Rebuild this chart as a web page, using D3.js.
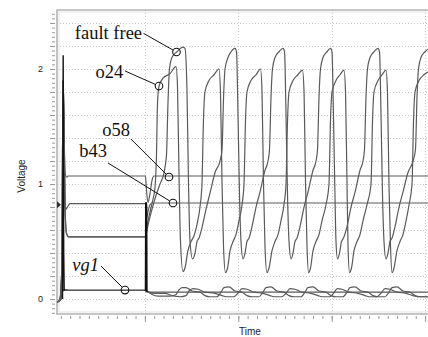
<!DOCTYPE html>
<html>
<head>
<meta charset="utf-8">
<script src="https://cdn.jsdelivr.net/npm/d3@7"></script>
<style>
  body { margin: 0; background: #fff; }
  svg { display: block; }
</style>
</head>
<body>
<div id="chart"></div>
<script>
// time in ns, voltage in V
const timeDomain = [0.059, 4.031];
const voltDomain = [-0.13, 2.513];
const yTickLabels = [0, 1, 2];

const faultFree = [
  [0.059, -0.03], [0.091, 0.0], [0.112, 0.3], [0.123, 1.9], [0.134, 1.6], [0.145, 0.8], [0.161, 0.57], [0.187, 0.54], [1.006, 0.54],
  [1.022, 0.6], [1.044, 0.68], [1.076, 0.78], [1.119, 0.9], [1.162, 1.0], [1.205, 1.1], [1.231, 1.25], [1.247, 1.7], [1.263, 2.0],
  [1.290, 2.1], [1.343, 2.15], [1.408, 2.19], [1.429, 2.18], [1.451, 1.8], [1.467, 1.0], [1.483, 0.5], [1.510, 0.35],
  [1.537, 0.4], [1.558, 0.5], [1.579, 0.53], [1.611, 0.62], [1.654, 0.78], [1.697, 0.92], [1.751, 1.1], [1.804, 1.2],
  [1.826, 1.3], [1.842, 1.75], [1.858, 2.0], [1.890, 2.1], [1.922, 2.15], [1.965, 2.18], [1.981, 2.15], [1.997, 1.6],
  [2.013, 0.9], [2.029, 0.5], [2.050, 0.35], [2.072, 0.4], [2.093, 0.5], [2.115, 0.53], [2.147, 0.63], [2.190, 0.8],
  [2.232, 0.93], [2.286, 1.12], [2.318, 1.2], [2.334, 1.3], [2.350, 1.75], [2.366, 2.0], [2.393, 2.1], [2.436, 2.15],
  [2.479, 2.18], [2.495, 2.15], [2.511, 1.6], [2.527, 0.9], [2.543, 0.5], [2.565, 0.35], [2.586, 0.4], [2.607, 0.5],
  [2.629, 0.53], [2.661, 0.63], [2.704, 0.8], [2.746, 0.93], [2.800, 1.12], [2.832, 1.2], [2.848, 1.3], [2.864, 1.75],
  [2.880, 2.0], [2.907, 2.1], [2.950, 2.15], [2.987, 2.18], [3.003, 2.15], [3.019, 1.6], [3.035, 0.9], [3.046, 0.5],
  [3.062, 0.35], [3.084, 0.4], [3.105, 0.5], [3.126, 0.53], [3.164, 0.63], [3.207, 0.8], [3.250, 0.93], [3.303, 1.12],
  [3.335, 1.2], [3.351, 1.3], [3.367, 1.75], [3.383, 2.0], [3.410, 2.1], [3.453, 2.15], [3.496, 2.18], [3.512, 2.15],
  [3.528, 1.6], [3.544, 0.9], [3.560, 0.5], [3.581, 0.35], [3.603, 0.4], [3.624, 0.5], [3.646, 0.53], [3.678, 0.63],
  [3.721, 0.8], [3.763, 0.93], [3.817, 1.1], [3.871, 1.2], [3.897, 1.3], [3.913, 1.75], [3.929, 2.0], [3.956, 2.1],
  [3.999, 2.15], [4.052, 2.18],
];

const o24 = [
  [0.059, -0.03], [0.091, 0.0], [0.112, 0.3], [0.123, 1.9], [0.134, 1.6], [0.145, 0.8], [0.161, 0.57], [0.187, 0.54], [1.006, 0.54],
  [1.022, 0.62], [1.044, 0.72], [1.076, 0.83], [1.108, 0.97], [1.124, 1.25], [1.135, 1.7], [1.151, 1.85], [1.194, 1.92],
  [1.269, 1.96], [1.333, 2.02], [1.349, 1.85], [1.365, 1.1], [1.381, 0.5], [1.408, 0.24], [1.429, 0.27], [1.461, 0.42],
  [1.494, 0.5], [1.526, 0.55], [1.558, 0.65], [1.590, 0.8], [1.611, 1.0], [1.627, 1.55], [1.643, 1.8], [1.686, 1.9],
  [1.740, 1.95], [1.793, 2.0], [1.809, 1.8], [1.826, 1.0], [1.842, 0.45], [1.863, 0.23], [1.885, 0.27], [1.912, 0.42],
  [1.944, 0.5], [1.975, 0.56], [2.007, 0.68], [2.040, 0.82], [2.061, 1.0], [2.077, 1.55], [2.093, 1.8], [2.136, 1.9],
  [2.190, 1.95], [2.238, 2.0], [2.254, 1.8], [2.270, 1.0], [2.286, 0.45], [2.307, 0.23], [2.329, 0.27], [2.361, 0.42],
  [2.393, 0.5], [2.425, 0.56], [2.457, 0.68], [2.489, 0.82], [2.511, 1.0], [2.527, 1.55], [2.543, 1.8], [2.586, 1.9],
  [2.639, 1.95], [2.687, 1.99], [2.704, 1.8], [2.720, 1.0], [2.736, 0.45], [2.752, 0.23], [2.773, 0.27], [2.800, 0.42],
  [2.832, 0.5], [2.864, 0.56], [2.896, 0.68], [2.939, 0.82], [2.971, 1.0], [2.987, 1.55], [3.003, 1.8], [3.046, 1.9],
  [3.089, 1.95], [3.132, 1.99], [3.148, 1.8], [3.164, 1.0], [3.175, 0.45], [3.191, 0.23], [3.212, 0.27], [3.239, 0.42],
  [3.271, 0.5], [3.303, 0.56], [3.335, 0.68], [3.378, 0.82], [3.421, 1.0], [3.437, 1.55], [3.453, 1.8], [3.496, 1.9],
  [3.539, 1.95], [3.581, 1.99], [3.597, 1.8], [3.613, 1.0], [3.630, 0.45], [3.646, 0.23], [3.667, 0.27], [3.699, 0.42],
  [3.731, 0.5], [3.763, 0.56], [3.796, 0.68], [3.828, 0.82], [3.860, 1.0], [3.876, 1.55], [3.892, 1.8], [3.935, 1.9],
  [3.988, 1.95], [4.052, 1.98],
];

const o58 = [
  [0.059, -0.03], [0.091, 0.0], [0.112, 0.3], [0.123, 1.9], [0.134, 1.5], [0.145, 1.1], [0.161, 1.06], [0.177, 1.07],
  [1.006, 1.07], [1.017, 0.95], [1.033, 0.84], [1.055, 0.92], [1.076, 1.03], [1.097, 1.07], [4.052, 1.07],
];

const b43 = [
  [0.059, -0.03], [0.091, 0.0], [0.112, 0.3], [0.123, 1.9], [0.134, 1.4], [0.145, 0.85], [0.155, 0.78], [0.171, 0.8],
  [0.198, 0.83], [1.006, 0.83], [1.017, 0.7], [1.033, 0.76], [1.055, 0.82], [1.076, 0.835], [4.052, 0.835],
];

const vg1 = [
  [0.059, -0.03], [0.080, -0.02], [0.102, 0.0], [0.112, 0.06], [0.134, 0.08], [0.198, 0.075], [1.006, 0.075],
  [1.017, 0.07], [1.055, 0.06], [4.052, 0.06],
];

const vg1o24 = [
  [0.059, -0.03], [0.102, 0.0], [0.112, 0.06], [0.134, 0.08], [0.198, 0.075], [1.006, 0.075],
  [1.022, 0.07], [1.076, 0.04], [1.140, 0.025], [1.269, 0.025], [1.333, 0.04], [1.365, 0.08], [1.397, 0.1], [1.440, 0.1],
  [1.504, 0.07], [1.590, 0.06], [1.643, 0.03], [1.697, 0.02], [1.772, 0.02], [1.815, 0.06], [1.847, 0.1], [1.900, 0.105],
  [1.965, 0.07], [2.040, 0.06], [2.093, 0.03], [2.147, 0.02], [2.221, 0.02], [2.264, 0.06], [2.297, 0.1], [2.350, 0.105],
  [2.414, 0.07], [2.489, 0.06], [2.543, 0.03], [2.596, 0.02], [2.671, 0.02], [2.714, 0.06], [2.746, 0.1], [2.800, 0.105],
  [2.864, 0.07], [2.939, 0.06], [2.992, 0.03], [3.046, 0.02], [3.121, 0.02], [3.164, 0.06], [3.196, 0.1], [3.249, 0.105],
  [3.314, 0.07], [3.389, 0.06], [3.442, 0.03], [3.496, 0.02], [3.571, 0.02], [3.613, 0.06], [3.646, 0.1], [3.699, 0.105],
  [3.763, 0.07], [3.838, 0.06], [3.892, 0.03], [3.945, 0.02], [4.052, 0.02],
];

const vg1ff = [
  [0.059, -0.03], [0.102, 0.0], [0.112, 0.06], [0.134, 0.08], [0.198, 0.075], [1.006, 0.075],
  [1.033, 0.06], [1.108, 0.05], [1.215, 0.05], [1.290, 0.03], [1.376, 0.02], [1.440, 0.03], [1.472, 0.07], [1.515, 0.09],
  [1.569, 0.085], [1.643, 0.06], [1.751, 0.05], [1.826, 0.03], [1.868, 0.02], [1.954, 0.02], [1.997, 0.05], [2.040, 0.09],
  [2.093, 0.085], [2.168, 0.06], [2.264, 0.05], [2.339, 0.03], [2.382, 0.02], [2.468, 0.02], [2.511, 0.05], [2.554, 0.09],
  [2.607, 0.085], [2.682, 0.06], [2.778, 0.05], [2.853, 0.03], [2.896, 0.02], [2.982, 0.02], [3.019, 0.05], [3.062, 0.09],
  [3.110, 0.085], [3.185, 0.06], [3.282, 0.05], [3.357, 0.03], [3.399, 0.02], [3.485, 0.02], [3.528, 0.05], [3.571, 0.09],
  [3.624, 0.085], [3.699, 0.06], [3.796, 0.05], [3.870, 0.03], [3.924, 0.02], [4.052, 0.02],
];

// the two dark glitches (power-up and first clock edge)
const startGlitch = [[0.118, 0.0], [0.125, 2.12], [0.131, 0.4], [0.136, 0.07]];
const clockGlitch = [[1.009, 0.07], [1.012, 0.84], [1.016, 0.8], [1.019, 0.06]];

const annotations = [
  { name: 'fault free', textT: 0.970, textV: 2.261, fromT: 0.985, fromV: 2.31, atT: 1.338, atV: 2.148, italic: false },
  { name: 'o24', textT: 0.767, textV: 1.922, fromT: 0.787, fromV: 1.983, atT: 1.151, atV: 1.852, italic: false },
  { name: 'o58', textT: 0.840, textV: 1.417, fromT: 0.851, fromV: 1.391, atT: 1.258, atV: 1.061, italic: false },
  { name: 'b43', textT: 0.594, textV: 1.235, fromT: 0.605, fromV: 1.183, atT: 1.301, atV: 0.835, italic: false },
  { name: 'vg1', textT: 0.509, textV: 0.243, fromT: 0.530, fromV: 0.287, atT: 0.787, atV: 0.078, italic: true },
];

const width = 428;
const height = 337;
const plot = { left: 57, right: 428, top: 10, bottom: 314 };
const sansFont = "'Liberation Sans', Arial, sans-serif";
const serifFont = "'Liberation Serif', 'Times New Roman', serif";

const x = d3.scaleLinear().domain(timeDomain).range([plot.left, plot.right]);
const y = d3.scaleLinear().domain(voltDomain).range([plot.bottom, plot.top]);

const svg = d3.select('#chart')
  .append('svg')
  .attr('width', width)
  .attr('height', height);

svg.append('defs').append('clipPath')
  .attr('id', 'clip')
  .append('rect')
  .attr('x', plot.left)
  .attr('y', plot.top)
  .attr('width', plot.right - plot.left)
  .attr('height', plot.bottom - plot.top);

// dotted grid
const gridG = svg.append('g').attr('class', 'grid');
const hGrid = d3.range(0, 2.5, 0.2).map(v => +v.toFixed(2));
const vGrid = [1, 2, 3, 4];
gridG.selectAll('.hgrid')
  .data(hGrid)
  .enter()
  .append('line')
  .attr('x1', plot.left)
  .attr('x2', plot.right)
  .attr('y1', d => Math.round(y(d)) + 0.5)
  .attr('y2', d => Math.round(y(d)) + 0.5)
  .attr('stroke', '#c8c8c8')
  .attr('stroke-dasharray', '1,2');
gridG.selectAll('.vgrid')
  .data(vGrid)
  .enter()
  .append('line')
  .attr('x1', d => Math.round(x(d)) + 0.5)
  .attr('x2', d => Math.round(x(d)) + 0.5)
  .attr('y1', plot.top)
  .attr('y2', plot.bottom)
  .attr('stroke', '#c8c8c8')
  .attr('stroke-dasharray', '1,2');

// axes: minor ticks then majors
const yMinor = d3.range(-0.12, 2.5, 0.04).map(v => +v.toFixed(2));
const yMajor = d3.range(0, 2.5, 0.2).map(v => +v.toFixed(2));
const xMinor = d3.range(0.1, 4.05, 0.1).map(v => +v.toFixed(2));

const yMinorAxis = svg.append('g')
  .attr('transform', `translate(${plot.left - 2},0)`)
  .call(d3.axisLeft(y).tickValues(yMinor).tickSize(3).tickFormat(''));
const yMajorAxis = svg.append('g')
  .attr('transform', `translate(${plot.left - 2},0)`)
  .call(d3.axisLeft(y).tickValues(yMajor).tickSize(5)
    .tickFormat(d => yTickLabels.includes(d) ? d : ''));
const xMinorAxis = svg.append('g')
  .attr('transform', `translate(0,${plot.bottom + 2})`)
  .call(d3.axisBottom(x).tickValues(xMinor).tickSize(3).tickFormat(''));
const xMajorAxis = svg.append('g')
  .attr('transform', `translate(0,${plot.bottom + 2})`)
  .call(d3.axisBottom(x).tickValues(vGrid).tickSize(6).tickFormat(''));

[yMinorAxis, yMajorAxis, xMinorAxis, xMajorAxis].forEach(g => {
  g.select('.domain').remove();
  g.selectAll('.tick line').attr('stroke', '#999');
});
yMajorAxis.selectAll('.tick text')
  .attr('x', -12)
  .attr('fill', '#222')
  .attr('font-family', sansFont)
  .attr('font-size', '9px');

// frame
const frameG = svg.append('g').attr('class', 'frame');
frameG.append('path')
  .attr('d', `M${plot.right + 2},${plot.top} H${plot.left} V${plot.bottom} H${plot.right + 2}`)
  .attr('fill', 'none')
  .attr('stroke', '#b4b4b4')
  .attr('stroke-width', 1.6);
frameG.append('path')
  .attr('d', `M${plot.right + 2},${plot.top + 2} H${plot.left + 2} V${plot.bottom - 2} H${plot.right + 2}`)
  .attr('fill', 'none')
  .attr('stroke', '#e4e4e4')
  .attr('stroke-width', 1);

// axis titles
svg.append('text')
  .attr('transform', `translate(25,${(plot.top + plot.bottom) / 2 + 14}) rotate(-90)`)
  .attr('text-anchor', 'middle')
  .attr('font-family', sansFont)
  .attr('font-size', '10px')
  .attr('fill', '#222')
  .text('Voltage');
svg.append('text')
  .attr('x', 250)
  .attr('y', height - 2)
  .attr('text-anchor', 'middle')
  .attr('font-family', sansFont)
  .attr('font-size', '10px')
  .attr('fill', '#222')
  .text('Time');

// waveforms
const line = d3.line()
  .x(d => x(d[0]))
  .y(d => y(d[1]))
  .curve(d3.curveMonotoneX);

const tracesG = svg.append('g').attr('clip-path', 'url(#clip)');
const traces = [vg1ff, vg1o24, vg1, b43, o58, o24, faultFree];
tracesG.selectAll('.trace')
  .data(traces)
  .enter()
  .append('path')
  .attr('class', 'trace')
  .attr('fill', 'none')
  .attr('stroke', '#5a5a5a')
  .attr('stroke-width', 1.2)
  .attr('d', d => line(d));

const glitchLine = d3.line().x(d => x(d[0])).y(d => y(d[1]));
tracesG.selectAll('.glitch')
  .data([startGlitch, clockGlitch])
  .enter()
  .append('path')
  .attr('class', 'glitch')
  .attr('fill', 'none')
  .attr('stroke', '#111')
  .attr('stroke-width', (d, i) => i === 0 ? 1.4 : 2)
  .attr('d', d => glitchLine(d));

// small marker on the axis
const mx = x(timeDomain[0]);
const my = y(0.82);
svg.append('path')
  .attr('d', `M${mx},${my - 3.5} L${mx + 4},${my} L${mx},${my + 3.5} Z`)
  .attr('fill', '#333');

// annotations
const annG = svg.append('g').attr('class', 'annotations');
const r = 3.8;
annotations.forEach(a => {
  const x0 = x(a.fromT), y0 = y(a.fromV);
  const x1 = x(a.atT), y1 = y(a.atV);
  const len = Math.hypot(x1 - x0, y1 - y0);
  annG.append('line')
    .attr('x1', x0)
    .attr('y1', y0)
    .attr('x2', x1 - (x1 - x0) / len * r)
    .attr('y2', y1 - (y1 - y0) / len * r)
    .attr('stroke', '#111')
    .attr('stroke-width', 1);
  annG.append('circle')
    .attr('cx', x1)
    .attr('cy', y1)
    .attr('r', r)
    .attr('fill', 'none')
    .attr('stroke', '#111')
    .attr('stroke-width', 1.1);
  annG.append('text')
    .attr('x', x(a.textT))
    .attr('y', y(a.textV))
    .attr('text-anchor', 'end')
    .attr('font-family', serifFont)
    .attr('font-size', '18.5px')
    .attr('font-style', a.italic ? 'italic' : 'normal')
    .attr('fill', '#111')
    .text(a.name);
});
</script>
</body>
</html>
